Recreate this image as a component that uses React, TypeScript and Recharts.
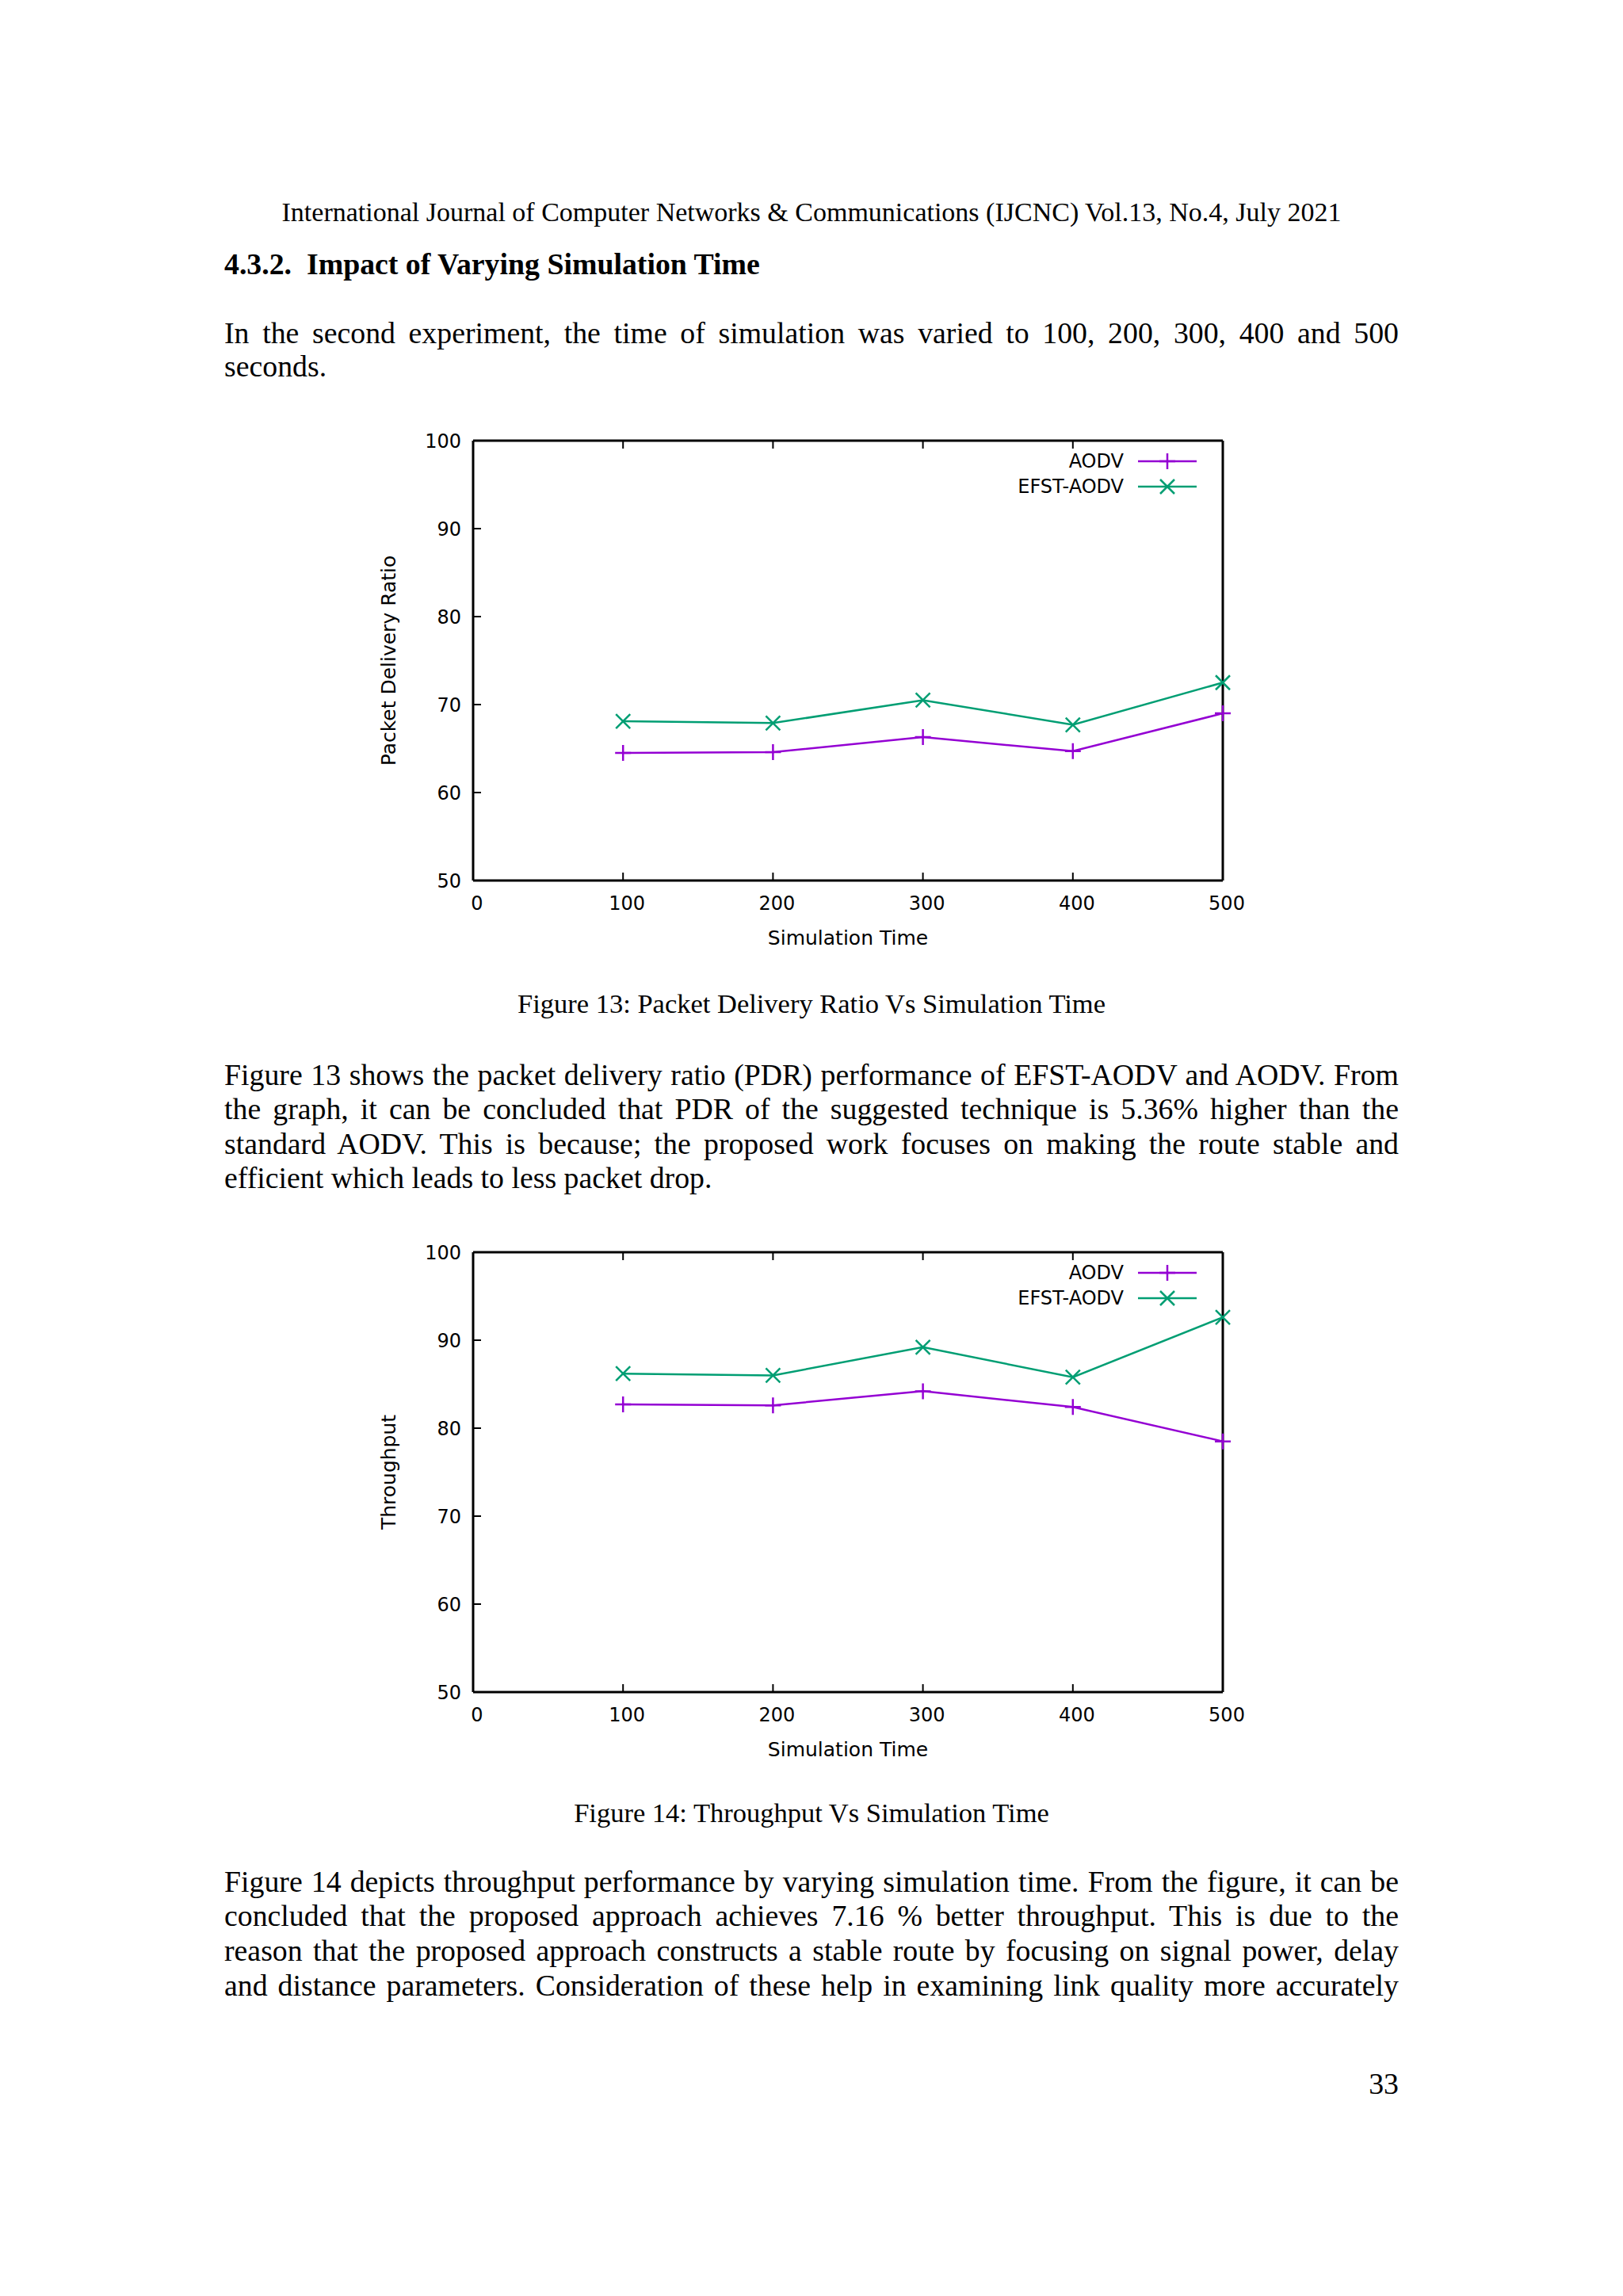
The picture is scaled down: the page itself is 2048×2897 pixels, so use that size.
import { LineChart, Line, XAxis, YAxis, Legend } from 'recharts'

// simulation time (s) on the x axis
const simTimes = [100, 200, 300, 400, 500]

// Figure 13: packet delivery ratio
const pdrAodv = [64.5, 64.6, 66.3, 64.7, 69.0]
const pdrEfst = [68.1, 67.9, 70.5, 67.7, 72.5]

// Figure 14: throughput
const throughputAodv = [82.7, 82.6, 84.2, 82.4, 78.5]
const throughputEfst = [86.2, 86.0, 89.2, 85.8, 92.6]

const xTicks = [0, 100, 200, 300, 400, 500]
const yTicks = [50, 60, 70, 80, 90, 100]

const AODV_COLOR = '#9400d3'
const EFST_COLOR = '#009e73'
const PLOT_FONT = '"DejaVu Sans", sans-serif'
const SERIF = '"Liberation Serif", "Times New Roman", serif'

function PlusDot(props: any) {
  const { cx, cy, stroke, index } = props
  if (cx == null || cy == null) return <g key={index} />
  const s = 10
  return (
    <path
      key={index}
      d={`M${cx - s},${cy}H${cx + s}M${cx},${cy - s}V${cy + s}`}
      stroke={stroke}
      strokeWidth={2.5}
      fill="none"
    />
  )
}

function CrossDot(props: any) {
  const { cx, cy, stroke, index } = props
  if (cx == null || cy == null) return <g key={index} />
  const s = 9
  return (
    <path
      key={index}
      d={`M${cx - s},${cy - s}L${cx + s},${cy + s}M${cx - s},${cy + s}L${cx + s},${cy - s}`}
      stroke={stroke}
      strokeWidth={2.5}
      fill="none"
    />
  )
}

// mirrored axes: keep the tick marks, draw no labels
const NoLabel = () => <g />

function KeyBox({ payload }: any) {
  const items = payload ?? []
  return (
    <svg width={310} height={70} style={{ display: 'block' }}>
      {items.map((p: any, i: number) => {
        const y = 18 + i * 32
        const Marker = p.dataKey === 'aodv' ? PlusDot : CrossDot
        return (
          <g key={p.value}>
            <text x={208} y={y} textAnchor="end" dominantBaseline="central" fontSize={24} fontFamily={PLOT_FONT} fill="#000">
              {p.value}
            </text>
            <line x1={226} x2={300} y1={y} y2={y} stroke={p.color} strokeWidth={2.5} />
            <Marker cx={263} cy={y} stroke={p.color} />
          </g>
        )
      })}
    </svg>
  )
}

function GnuplotChart({ yLabel, aodv, efst }: { yLabel: string; aodv: number[]; efst: number[] }) {
  const data = simTimes.map((t, i) => ({ time: t, aodv: aodv[i], efst: efst[i] }))
  const tickStyle = { fill: '#000', fontSize: 24, fontFamily: PLOT_FONT }
  const border = { stroke: '#000', strokeWidth: 3 }
  const tickLine = { stroke: '#000', strokeWidth: 2 }
  return (
    <LineChart width={1180} height={720} data={data} margin={{ top: 35, right: 76, bottom: 39, left: 0 }}>
      <XAxis
        xAxisId="b"
        dataKey="time"
        type="number"
        domain={[0, 500]}
        ticks={xTicks}
        orientation="bottom"
        height={90}
        tickSize={-10}
        tickMargin={30}
        axisLine={border}
        tickLine={tickLine}
        tick={{ ...tickStyle, dx: 5 }}
        label={{ value: 'Simulation Time', position: 'insideBottom', offset: 9, fill: '#000', fontSize: 25, fontFamily: PLOT_FONT }}
      />
      <XAxis
        xAxisId="t"
        dataKey="time"
        type="number"
        domain={[0, 500]}
        ticks={xTicks}
        orientation="top"
        height={1}
        tickSize={-10}
        axisLine={border}
        tickLine={tickLine}
        tick={NoLabel}
      />
      <YAxis
        yAxisId="l"
        type="number"
        domain={[50, 100]}
        ticks={yTicks}
        width={157}
        tickSize={-10}
        tickMargin={25}
        axisLine={border}
        tickLine={tickLine}
        tick={tickStyle}
        label={{
          value: yLabel,
          angle: -90,
          position: 'insideLeft',
          offset: 50,
          fill: '#000',
          fontSize: 25,
          fontFamily: PLOT_FONT,
          style: { textAnchor: 'middle' },
        }}
      />
      <YAxis
        yAxisId="r"
        orientation="right"
        type="number"
        domain={[50, 100]}
        ticks={yTicks}
        width={1}
        tickSize={-10}
        axisLine={border}
        tickLine={tickLine}
        tick={NoLabel}
      />
      <Legend
        layout="horizontal"
        verticalAlign="middle"
        align="center"
        content={<KeyBox />}
        wrapperStyle={{ left: 770, top: 44, width: 310, height: 70 }}
      />
      <Line
        xAxisId="b"
        yAxisId="l"
        type="linear"
        dataKey="aodv"
        name="AODV"
        stroke={AODV_COLOR}
        strokeWidth={2.5}
        dot={PlusDot}
        isAnimationActive={false}
      />
      <Line
        xAxisId="b"
        yAxisId="l"
        type="linear"
        dataKey="efst"
        name="EFST-AODV"
        stroke={EFST_COLOR}
        strokeWidth={2.5}
        dot={CrossDot}
        isAnimationActive={false}
      />
    </LineChart>
  )
}

function TextLine({
  y,
  size = 37.8,
  align = 'left',
  bold = false,
  children,
}: {
  y: number
  size?: number
  align?: 'left' | 'center' | 'justify' | 'right'
  bold?: boolean
  children: any
}) {
  const lh = 44
  return (
    <div
      style={{
        position: 'absolute',
        left: 283,
        width: 1482,
        top: y - lh / 2,
        height: lh,
        lineHeight: `${lh}px`,
        fontSize: size,
        fontWeight: bold ? 700 : 400,
        textAlign: align,
        textAlignLast: align,
      }}
    >
      {children}
    </div>
  )
}

export default function App() {
  return (
    <div
      style={{
        position: 'absolute',
        left: 0,
        top: 0,
        width: 2048,
        height: 2897,
        background: '#fff',
        color: '#000',
        fontFamily: SERIF,
        overflow: 'hidden',
      }}
    >
      <TextLine y={268} size={34} align="center">
        International Journal of Computer Networks &amp; Communications (IJCNC) Vol.13, No.4, July 2021
      </TextLine>
      <TextLine y={333} bold>
        4.3.2.&nbsp; Impact of Varying Simulation Time
      </TextLine>

      <TextLine y={420} align="justify">
        In the second experiment, the time of simulation was varied to 100, 200, 300, 400 and 500
      </TextLine>
      <TextLine y={462}>seconds.</TextLine>

      <div style={{ position: 'absolute', left: 440, top: 520 }}>
        <GnuplotChart yLabel="Packet  Delivery Ratio" aodv={pdrAodv} efst={pdrEfst} />
      </div>

      <TextLine y={1266} size={34.5} align="center">
        Figure 13: Packet Delivery Ratio Vs Simulation Time
      </TextLine>

      <TextLine y={1356} align="justify">
        Figure 13 shows the packet delivery ratio (PDR) performance of EFST-AODV and AODV. From
      </TextLine>
      <TextLine y={1399} align="justify">
        the graph, it can be concluded that PDR of the suggested technique is 5.36% higher than the
      </TextLine>
      <TextLine y={1443} align="justify">
        standard AODV. This is because; the proposed work focuses on making the route stable and
      </TextLine>
      <TextLine y={1486}>efficient which leads to less packet drop.</TextLine>

      <div style={{ position: 'absolute', left: 440, top: 1544 }}>
        <GnuplotChart yLabel="Throughput" aodv={throughputAodv} efst={throughputEfst} />
      </div>

      <TextLine y={2287} size={34.5} align="center">
        Figure 14: Throughput Vs Simulation Time
      </TextLine>

      <TextLine y={2374} align="justify">
        Figure 14 depicts throughput performance by varying simulation time. From the figure, it can be
      </TextLine>
      <TextLine y={2417} align="justify">
        concluded that the proposed approach achieves 7.16 % better throughput. This is due to the
      </TextLine>
      <TextLine y={2461} align="justify">
        reason that the proposed approach constructs a stable route by focusing on signal power, delay
      </TextLine>
      <TextLine y={2505} align="justify">
        and distance parameters. Consideration of these help in examining link quality more accurately
      </TextLine>

      <TextLine y={2629} align="right">
        33
      </TextLine>
    </div>
  )
}
